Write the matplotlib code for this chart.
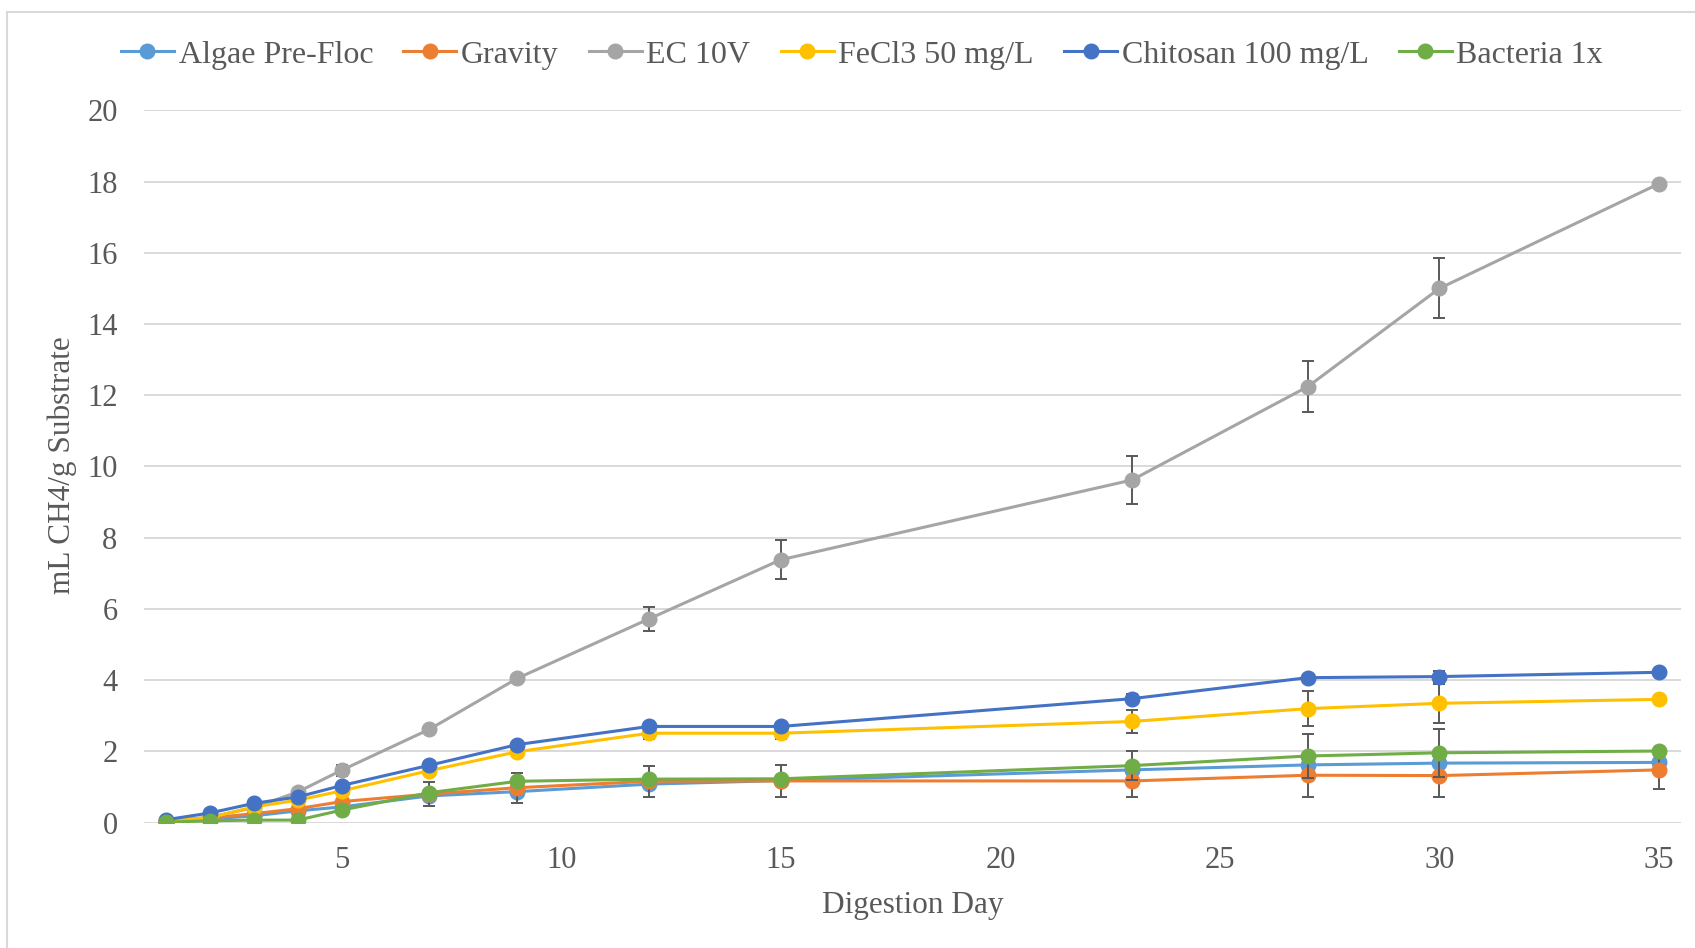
import matplotlib
matplotlib.use("Agg")
import matplotlib.pyplot as plt
from matplotlib.patches import Rectangle

plt.rcParams['font.family'] = ['Liberation Serif', 'DejaVu Serif']

days = [1, 2, 3, 4, 5, 7, 9, 12, 15, 23, 27, 30, 35]

algae = [0.03, 0.10, 0.19, 0.33, 0.44, 0.75, 0.87, 1.08, 1.18, 1.48, 1.62, 1.67, 1.69]
gravity = [0.03, 0.13, 0.25, 0.39, 0.59, 0.80, 0.98, 1.16, 1.17, 1.17, 1.33, 1.32, 1.48]
ec10v = [0.05, 0.15, 0.42, 0.86, 1.47, 2.62, 4.05, 5.72, 7.38, 9.62, 12.24, 15.0, 17.94]
fecl3 = [0.04, 0.14, 0.44, 0.63, 0.89, 1.46, 1.99, 2.51, 2.51, 2.84, 3.20, 3.35, 3.46]
chitosan = [0.08, 0.27, 0.54, 0.72, 1.04, 1.61, 2.19, 2.70, 2.70, 3.48, 4.07, 4.10, 4.22]
bacteria = [0.01, 0.05, 0.07, 0.07, 0.35, 0.84, 1.16, 1.22, 1.23, 1.60, 1.87, 1.96, 2.01]

err_algae = [0, 0, 0, 0, 0, 0, 0, 0, 0, 0, 0, 0, 0]
err_gravity = [0, 0, 0, 0, 0, 0.33, 0.42, 0.44, 0.44, 0.44, 0.62, 0.60, 0.55]
err_ec10v = [0, 0, 0, 0.06, 0.15, 0.05, 0.08, 0.33, 0.55, 0.67, 0.72, 0.84, 0]
err_fecl3 = [0, 0, 0, 0, 0, 0, 0, 0.16, 0.16, 0.33, 0.50, 0.55, 0]
err_chitosan = [0, 0, 0, 0, 0, 0, 0, 0, 0, 0.12, 0, 0.15, 0]
err_bacteria = [0, 0, 0, 0, 0, 0, 0, 0, 0, 0.40, 0.63, 0.68, 0]

labels = ["Algae Pre-Floc", "Gravity", "EC 10V", "FeCl3 50 mg/L",
          "Chitosan 100 mg/L", "Bacteria 1x"]
series = [algae, gravity, ec10v, fecl3, chitosan, bacteria]
errors = [err_algae, err_gravity, err_ec10v, err_fecl3, err_chitosan, err_bacteria]
colors = ["#5B9BD5", "#ED7D31", "#A5A5A5", "#FFC000", "#4472C4", "#70AD47"]

yticks = [0, 2, 4, 6, 8, 10, 12, 14, 16, 18, 20]
xticks = [5, 10, 15, 20, 25, 30, 35]

txt = "#595959"
fs = 22

fig = plt.figure(figsize=(16.95, 9.48), dpi=100)
ax = fig.add_axes([0.08496, 0.13228, 0.90678, 0.75137])

fig.patches.append(Rectangle((7 / 1695, -0.1), 1.2, 1.1 - 12 / 948,
                             transform=fig.transFigure, fill=False,
                             edgecolor="#D9D9D9", linewidth=1.5, zorder=0))

for i, (y, e, c, lab) in enumerate(zip(series, errors, colors, labels)):
    z = 3 + i
    ax.errorbar(days, y, yerr=e, fmt='none', ecolor="#595959", elinewidth=1.4,
                capsize=4.5, capthick=1.4, zorder=z)
    ax.plot(days, y, color=c, linewidth=2.2, marker='o', markersize=10.5,
            label=lab, zorder=z + 0.5)

ax.set_xlim(0.5, 35.5)
ax.set_ylim(0, 20)
ax.set_yticks(yticks)
ax.set_xticks(xticks)
ax.grid(axis='y', color="#D9D9D9", linewidth=1.4, zorder=0)
ax.set_axisbelow(True)
for s in ax.spines.values():
    s.set_visible(False)
ax.tick_params(axis='both', length=0, labelsize=fs, labelcolor=txt)
ax.tick_params(axis='y', pad=19)
ax.tick_params(axis='x', pad=17)

fig.text(62 / 1695, 1 - 465 / 948, "mL CH4/g Substrate", rotation=90,
         ha='center', va='center', fontsize=22.5, color=txt)
fig.text(913 / 1695, 1 - 905 / 948, "Digestion Day", ha='center', va='center',
         fontsize=22.5, color=txt)

leg = fig.legend(loc='center', bbox_to_anchor=(862 / 1695, 1 - 55 / 948), ncol=6,
                 frameon=False, fontsize=23, handlelength=1.65, handletextpad=0.15,
                 columnspacing=0.95, borderaxespad=0)
for t in leg.get_texts():
    t.set_color(txt)

fig.savefig("out.png", dpi=100)
